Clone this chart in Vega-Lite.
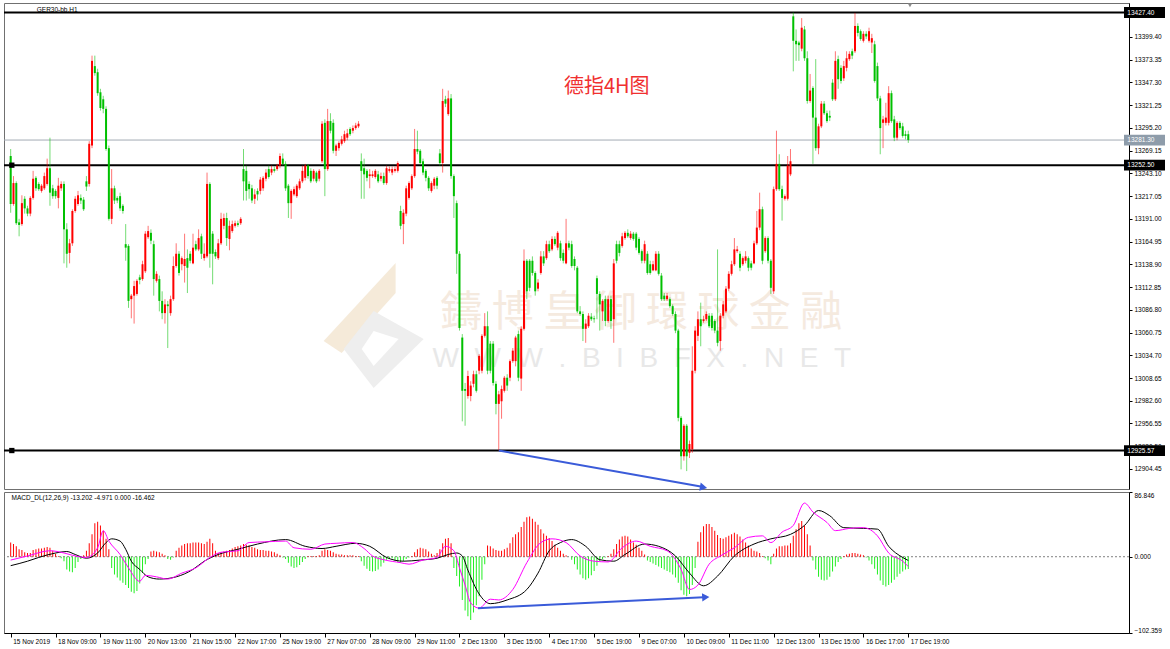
{
"$schema":"https://vega.github.io/schema/vega-lite/v6.json",
"background":"white",
"padding":{"left":2,"top":2,"right":0,"bottom":0},
"autosize":{"type":"pad"},
"bounds":"flush",
"spacing":3,
"config":{"view":{"stroke":"#707070","strokeWidth":1},"axis":{"labelFont":"Liberation Sans","labelFontSize":6.5,"labelColor":"#000","tickColor":"#000","domainColor":"#000","grid":false}},
"resolve":{"scale":{"x":"independent","y":"independent"}},
"datasets":{
"bars":[
{"i":0,"o":13263,"h":13271,"l":13198,"c":13208,"m":19},{"i":1,"o":13208,"h":13240,"l":13206,"c":13232,"m":17},{"i":2,"o":13232,"h":13234,"l":13184,"c":13186,"m":14},{"i":3,"o":13187,"h":13191,"l":13171,"c":13184,"m":10},{"i":4,"o":13185,"h":13218,"l":13183,"c":13209,"m":9},{"i":5,"o":13214,"h":13217,"l":13197,"c":13203,"m":6},{"i":6,"o":13203,"h":13206,"l":13194,"c":13197,"m":5},{"i":7,"o":13197,"h":13217,"l":13194,"c":13215,"m":5},{"i":8,"o":13215,"h":13246,"l":13213,"c":13237,"m":9},{"i":9,"o":13238,"h":13240,"l":13223,"c":13226,"m":10},
{"i":10,"o":13231,"h":13233,"l":13223,"c":13225,"m":11},{"i":11,"o":13223,"h":13231,"l":13221,"c":13229,"m":11},{"i":12,"o":13226,"h":13244,"l":13224,"c":13240,"m":12},{"i":13,"o":13231,"h":13260,"l":13229,"c":13249,"m":13},{"i":14,"o":13249,"h":13284,"l":13206,"c":13221,"m":12},{"i":15,"o":13226,"h":13230,"l":13214,"c":13217,"m":8},{"i":16,"o":13223,"h":13225,"l":13214,"c":13217,"m":4},{"i":17,"o":13215,"h":13238,"l":13203,"c":13229,"m":1},{"i":18,"o":13226,"h":13234,"l":13223,"c":13231,"m":-2},{"i":19,"o":13231,"h":13234,"l":13140,"c":13179,"m":-6},
{"i":20,"o":13179,"h":13186,"l":13135,"c":13151,"m":-17},{"i":21,"o":13152,"h":13168,"l":13140,"c":13163,"m":-20},{"i":22,"o":13163,"h":13202,"l":13160,"c":13200,"m":-21},{"i":23,"o":13200,"h":13217,"l":13198,"c":13214,"m":-15},{"i":24,"o":13208,"h":13223,"l":13206,"c":13218,"m":-7},{"i":25,"o":13215,"h":13219,"l":13208,"c":13212,"m":-3},{"i":26,"o":13213,"h":13216,"l":13200,"c":13202,"m":2},{"i":27,"o":13234,"h":13240,"l":13223,"c":13228,"m":8},{"i":28,"o":13231,"h":13280,"l":13228,"c":13277,"m":18},{"i":29,"o":13275,"h":13378,"l":13272,"c":13372,"m":30},
{"i":30,"o":13366,"h":13378,"l":13355,"c":13358,"m":45},{"i":31,"o":13359,"h":13363,"l":13332,"c":13335,"m":47},{"i":32,"o":13336,"h":13340,"l":13315,"c":13318,"m":42},{"i":33,"o":13328,"h":13332,"l":13312,"c":13317,"m":35},{"i":34,"o":13317,"h":13320,"l":13269,"c":13271,"m":24},{"i":35,"o":13272,"h":13275,"l":13189,"c":13191,"m":10},{"i":36,"o":13191,"h":13248,"l":13185,"c":13226,"m":-15},{"i":37,"o":13226,"h":13229,"l":13208,"c":13212,"m":-24},{"i":38,"o":13215,"h":13217,"l":13209,"c":13212,"m":-28},{"i":39,"o":13217,"h":13221,"l":13200,"c":13203,"m":-32},
{"i":40,"o":13206,"h":13208,"l":13197,"c":13200,"m":-35},{"i":41,"o":13162,"h":13185,"l":13143,"c":13158,"m":-38},{"i":42,"o":13160,"h":13162,"l":13089,"c":13097,"m":-42},{"i":43,"o":13099,"h":13105,"l":13077,"c":13103,"m":-47},{"i":44,"o":13103,"h":13120,"l":13071,"c":13114,"m":-49},{"i":45,"o":13105,"h":13122,"l":13103,"c":13120,"m":-46},{"i":46,"o":13124,"h":13127,"l":13116,"c":13121,"m":-36},{"i":47,"o":13122,"h":13143,"l":13120,"c":13139,"m":-22},{"i":48,"o":13131,"h":13177,"l":13129,"c":13174,"m":-10},{"i":49,"o":13170,"h":13183,"l":13168,"c":13177,"m":-3},
{"i":50,"o":13175,"h":13179,"l":13162,"c":13166,"m":7},{"i":51,"o":13162,"h":13166,"l":13103,"c":13122,"m":8},{"i":52,"o":13120,"h":13131,"l":13118,"c":13128,"m":7},{"i":53,"o":13122,"h":13126,"l":13085,"c":13097,"m":6},{"i":54,"o":13097,"h":13108,"l":13076,"c":13083,"m":4},{"i":55,"o":13083,"h":13099,"l":13071,"c":13093,"m":2},{"i":56,"o":13093,"h":13097,"l":13043,"c":13091,"m":-3},{"i":57,"o":13083,"h":13103,"l":13080,"c":13099,"m":-4},{"i":58,"o":13099,"h":13148,"l":13097,"c":13137,"m":-1},{"i":59,"o":13137,"h":13163,"l":13135,"c":13151,"m":8},
{"i":60,"o":13151,"h":13154,"l":13126,"c":13129,"m":12},{"i":61,"o":13139,"h":13148,"l":13132,"c":13146,"m":15},{"i":62,"o":13137,"h":13174,"l":13118,"c":13145,"m":17},{"i":63,"o":13146,"h":13156,"l":13106,"c":13135,"m":18},{"i":64,"o":13151,"h":13154,"l":13140,"c":13143,"m":18},{"i":65,"o":13140,"h":13174,"l":13139,"c":13158,"m":19},{"i":66,"o":13162,"h":13166,"l":13154,"c":13156,"m":19},{"i":67,"o":13156,"h":13179,"l":13154,"c":13169,"m":19},{"i":68,"o":13171,"h":13174,"l":13145,"c":13151,"m":18},{"i":69,"o":13146,"h":13163,"l":13143,"c":13151,"m":17},
{"i":70,"o":13148,"h":13244,"l":13146,"c":13231,"m":20},{"i":71,"o":13231,"h":13233,"l":13135,"c":13151,"m":24},{"i":72,"o":13174,"h":13177,"l":13116,"c":13151,"m":18},{"i":73,"o":13153,"h":13156,"l":13145,"c":13148,"m":8},{"i":74,"o":13146,"h":13168,"l":13144,"c":13163,"m":5},{"i":75,"o":13163,"h":13198,"l":13161,"c":13191,"m":6},{"i":76,"o":13183,"h":13197,"l":13179,"c":13192,"m":7},{"i":77,"o":13192,"h":13198,"l":13160,"c":13169,"m":8},{"i":78,"o":13168,"h":13189,"l":13155,"c":13183,"m":9},{"i":79,"o":13177,"h":13189,"l":13175,"c":13185,"m":11},
{"i":80,"o":13183,"h":13189,"l":13181,"c":13186,"m":13},{"i":81,"o":13186,"h":13189,"l":13182,"c":13184,"m":14},{"i":82,"o":13186,"h":13193,"l":13184,"c":13191,"m":15},{"i":83,"o":13248,"h":13271,"l":13212,"c":13234,"m":17},{"i":84,"o":13246,"h":13252,"l":13212,"c":13223,"m":16},{"i":85,"o":13231,"h":13234,"l":13214,"c":13225,"m":15},{"i":86,"o":13226,"h":13230,"l":13209,"c":13212,"m":13},{"i":87,"o":13214,"h":13225,"l":13208,"c":13219,"m":12},{"i":88,"o":13223,"h":13226,"l":13212,"c":13219,"m":10},{"i":89,"o":13223,"h":13239,"l":13219,"c":13236,"m":9},
{"i":90,"o":13226,"h":13240,"l":13223,"c":13238,"m":9},{"i":91,"o":13237,"h":13248,"l":13234,"c":13244,"m":8},{"i":92,"o":13248,"h":13252,"l":13237,"c":13239,"m":8},{"i":93,"o":13244,"h":13252,"l":13241,"c":13248,"m":7},{"i":94,"o":13248,"h":13251,"l":13244,"c":13246,"m":6},{"i":95,"o":13248,"h":13254,"l":13246,"c":13252,"m":4},{"i":96,"o":13252,"h":13266,"l":13249,"c":13263,"m":2},{"i":97,"o":13260,"h":13266,"l":13252,"c":13254,"m":-1},{"i":98,"o":13254,"h":13257,"l":13223,"c":13226,"m":-3},{"i":99,"o":13229,"h":13231,"l":13192,"c":13209,"m":-8},
{"i":100,"o":13209,"h":13225,"l":13191,"c":13223,"m":-13},{"i":101,"o":13219,"h":13228,"l":13217,"c":13225,"m":-15},{"i":102,"o":13217,"h":13231,"l":13215,"c":13229,"m":-14},{"i":103,"o":13226,"h":13237,"l":13224,"c":13234,"m":-11},{"i":104,"o":13234,"h":13252,"l":13232,"c":13246,"m":-7},{"i":105,"o":13238,"h":13254,"l":13235,"c":13252,"m":-3},{"i":106,"o":13252,"h":13254,"l":13237,"c":13240,"m":1},{"i":107,"o":13246,"h":13249,"l":13232,"c":13234,"m":1},{"i":108,"o":13237,"h":13248,"l":13234,"c":13246,"m":1},{"i":109,"o":13244,"h":13246,"l":13232,"c":13234,"m":1},
{"i":110,"o":13237,"h":13248,"l":13234,"c":13246,"m":2},{"i":111,"o":13257,"h":13303,"l":13255,"c":13300,"m":8},{"i":112,"o":13301,"h":13305,"l":13217,"c":13248,"m":10},{"i":113,"o":13248,"h":13317,"l":13246,"c":13303,"m":9},{"i":114,"o":13303,"h":13312,"l":13289,"c":13292,"m":8},{"i":115,"o":13301,"h":13305,"l":13266,"c":13269,"m":6},{"i":116,"o":13269,"h":13277,"l":13263,"c":13275,"m":4},{"i":117,"o":13272,"h":13280,"l":13269,"c":13278,"m":3},{"i":118,"o":13277,"h":13286,"l":13275,"c":13282,"m":3},{"i":119,"o":13280,"h":13292,"l":13278,"c":13288,"m":2},
{"i":120,"o":13284,"h":13294,"l":13281,"c":13289,"m":2},{"i":121,"o":13294,"h":13296,"l":13286,"c":13288,"m":2},{"i":122,"o":13292,"h":13298,"l":13289,"c":13295,"m":2},{"i":123,"o":13295,"h":13301,"l":13293,"c":13298,"m":1},{"i":124,"o":13297,"h":13303,"l":13295,"c":13300,"m":1},{"i":125,"o":13257,"h":13266,"l":13214,"c":13246,"m":-6},{"i":126,"o":13249,"h":13260,"l":13214,"c":13242,"m":-12},{"i":127,"o":13246,"h":13248,"l":13234,"c":13238,"m":-16},{"i":128,"o":13240,"h":13248,"l":13226,"c":13242,"m":-19},{"i":129,"o":13240,"h":13246,"l":13238,"c":13242,"m":-20},
{"i":130,"o":13239,"h":13248,"l":13237,"c":13246,"m":-19},{"i":131,"o":13242,"h":13246,"l":13232,"c":13234,"m":-17},{"i":132,"o":13237,"h":13244,"l":13234,"c":13240,"m":-13},{"i":133,"o":13240,"h":13244,"l":13230,"c":13232,"m":-8},{"i":134,"o":13232,"h":13252,"l":13230,"c":13249,"m":-4},{"i":135,"o":13246,"h":13251,"l":13244,"c":13248,"m":-3},{"i":136,"o":13244,"h":13251,"l":13241,"c":13248,"m":-2},{"i":137,"o":13246,"h":13251,"l":13244,"c":13248,"m":-5},{"i":138,"o":13246,"h":13257,"l":13244,"c":13255,"m":-7},{"i":139,"o":13200,"h":13206,"l":13179,"c":13183,"m":-8},
{"i":140,"o":13185,"h":13202,"l":13162,"c":13198,"m":-6},{"i":141,"o":13197,"h":13229,"l":13194,"c":13226,"m":-3},{"i":142,"o":13215,"h":13234,"l":13213,"c":13232,"m":-1},{"i":143,"o":13226,"h":13242,"l":13224,"c":13240,"m":1},{"i":144,"o":13240,"h":13294,"l":13238,"c":13271,"m":6},{"i":145,"o":13271,"h":13292,"l":13265,"c":13268,"m":10},{"i":146,"o":13269,"h":13271,"l":13253,"c":13255,"m":12},{"i":147,"o":13257,"h":13260,"l":13241,"c":13244,"m":11},{"i":148,"o":13246,"h":13248,"l":13234,"c":13238,"m":10},{"i":149,"o":13238,"h":13240,"l":13223,"c":13226,"m":7},
{"i":150,"o":13223,"h":13234,"l":13221,"c":13232,"m":4},{"i":151,"o":13229,"h":13239,"l":13225,"c":13237,"m":2},{"i":152,"o":13238,"h":13240,"l":13225,"c":13229,"m":5},{"i":153,"o":13266,"h":13271,"l":13252,"c":13255,"m":10},{"i":154,"o":13255,"h":13340,"l":13244,"c":13326,"m":18},{"i":155,"o":13328,"h":13332,"l":13319,"c":13323,"m":24},{"i":156,"o":13311,"h":13338,"l":13309,"c":13329,"m":25},{"i":157,"o":13329,"h":13334,"l":13237,"c":13240,"m":18},{"i":158,"o":13240,"h":13242,"l":13192,"c":13217,"m":-15},{"i":159,"o":13209,"h":13212,"l":13128,"c":13151,"m":-26},
{"i":160,"o":13151,"h":13154,"l":13063,"c":13066,"m":-40},{"i":161,"o":13055,"h":13059,"l":12959,"c":12994,"m":-58},{"i":162,"o":12996,"h":13003,"l":12954,"c":12994,"m":-72},{"i":163,"o":12988,"h":13017,"l":12985,"c":13011,"m":-80},{"i":164,"o":12988,"h":13005,"l":12982,"c":13000,"m":-85},{"i":165,"o":13002,"h":13017,"l":12998,"c":13013,"m":-75},{"i":166,"o":13013,"h":13017,"l":12992,"c":12994,"m":-65},{"i":167,"o":13017,"h":13036,"l":13013,"c":13034,"m":-53},{"i":168,"o":13017,"h":13059,"l":13014,"c":13057,"m":-31},{"i":169,"o":13057,"h":13083,"l":13055,"c":13068,"m":-10},
{"i":170,"o":13068,"h":13085,"l":13013,"c":13017,"m":15},{"i":171,"o":13048,"h":13051,"l":13014,"c":13017,"m":14},{"i":172,"o":13048,"h":13051,"l":13000,"c":13003,"m":11},{"i":173,"o":13002,"h":13005,"l":12967,"c":12979,"m":9},{"i":174,"o":12979,"h":12994,"l":12925.6,"c":12990,"m":8},{"i":175,"o":12982,"h":13000,"l":12962,"c":12996,"m":8},{"i":176,"o":12994,"h":13011,"l":12992,"c":13009,"m":10},{"i":177,"o":13009,"h":13013,"l":12994,"c":13000,"m":12},{"i":178,"o":13009,"h":13030,"l":13005,"c":13028,"m":18},{"i":179,"o":13028,"h":13043,"l":13026,"c":13040,"m":26},
{"i":180,"o":13028,"h":13057,"l":13022,"c":13055,"m":30},{"i":181,"o":13059,"h":13063,"l":13005,"c":13009,"m":33},{"i":182,"o":13008,"h":13068,"l":12994,"c":13065,"m":40},{"i":183,"o":13065,"h":13156,"l":13063,"c":13143,"m":47},{"i":184,"o":13143,"h":13145,"l":13099,"c":13108,"m":53},{"i":185,"o":13143,"h":13145,"l":13108,"c":13112,"m":54},{"i":186,"o":13143,"h":13148,"l":13126,"c":13129,"m":51},{"i":187,"o":13129,"h":13131,"l":13103,"c":13108,"m":47},{"i":188,"o":13111,"h":13122,"l":13108,"c":13118,"m":43},{"i":189,"o":13129,"h":13154,"l":13127,"c":13148,"m":37},
{"i":190,"o":13148,"h":13154,"l":13137,"c":13140,"m":31},{"i":191,"o":13146,"h":13166,"l":13144,"c":13162,"m":28},{"i":192,"o":13162,"h":13166,"l":13152,"c":13154,"m":25},{"i":193,"o":13156,"h":13171,"l":13154,"c":13168,"m":21},{"i":194,"o":13168,"h":13171,"l":13160,"c":13162,"m":16},{"i":195,"o":13158,"h":13177,"l":13155,"c":13175,"m":12},{"i":196,"o":13163,"h":13166,"l":13143,"c":13146,"m":8},{"i":197,"o":13152,"h":13156,"l":13140,"c":13143,"m":4},{"i":198,"o":13140,"h":13191,"l":13139,"c":13163,"m":2},{"i":199,"o":13163,"h":13166,"l":13155,"c":13158,"m":0},
{"i":200,"o":13162,"h":13166,"l":13135,"c":13137,"m":-4},{"i":201,"o":13145,"h":13148,"l":13132,"c":13137,"m":-10},{"i":202,"o":13135,"h":13137,"l":13083,"c":13085,"m":-17},{"i":203,"o":13085,"h":13091,"l":13080,"c":13082,"m":-24},{"i":204,"o":13082,"h":13085,"l":13051,"c":13065,"m":-29},{"i":205,"o":13065,"h":13076,"l":13049,"c":13071,"m":-31},{"i":206,"o":13068,"h":13083,"l":13066,"c":13080,"m":-29},{"i":207,"o":13079,"h":13083,"l":13074,"c":13076,"m":-25},{"i":208,"o":13077,"h":13080,"l":13072,"c":13076,"m":-19},{"i":209,"o":13123,"h":13126,"l":13076,"c":13105,"m":-12},
{"i":210,"o":13105,"h":13108,"l":13063,"c":13093,"m":-6},{"i":211,"o":13085,"h":13099,"l":13074,"c":13097,"m":-3},{"i":212,"o":13099,"h":13103,"l":13068,"c":13074,"m":-1},{"i":213,"o":13074,"h":13103,"l":13072,"c":13099,"m":1},{"i":214,"o":13099,"h":13103,"l":13065,"c":13074,"m":4},{"i":215,"o":13076,"h":13145,"l":13049,"c":13140,"m":10},{"i":216,"o":13162,"h":13166,"l":13140,"c":13143,"m":17},{"i":217,"o":13162,"h":13166,"l":13148,"c":13152,"m":23},{"i":218,"o":13160,"h":13175,"l":13158,"c":13171,"m":27},{"i":219,"o":13169,"h":13177,"l":13167,"c":13175,"m":28},
{"i":220,"o":13175,"h":13179,"l":13169,"c":13171,"m":27},{"i":221,"o":13169,"h":13177,"l":13167,"c":13174,"m":23},{"i":222,"o":13174,"h":13176,"l":13166,"c":13168,"m":19},{"i":223,"o":13174,"h":13176,"l":13155,"c":13158,"m":16},{"i":224,"o":13168,"h":13170,"l":13150,"c":13152,"m":12},{"i":225,"o":13154,"h":13156,"l":13140,"c":13143,"m":8},{"i":226,"o":13143,"h":13166,"l":13140,"c":13162,"m":3},{"i":227,"o":13151,"h":13154,"l":13127,"c":13129,"m":-5},{"i":228,"o":13139,"h":13143,"l":13127,"c":13129,"m":-7},{"i":229,"o":13132,"h":13143,"l":13131,"c":13139,"m":-9},
{"i":230,"o":13132,"h":13154,"l":13131,"c":13151,"m":-11},{"i":231,"o":13151,"h":13154,"l":13126,"c":13128,"m":-13},{"i":232,"o":13126,"h":13129,"l":13097,"c":13099,"m":-15},{"i":233,"o":13103,"h":13106,"l":13097,"c":13099,"m":-17},{"i":234,"o":13099,"h":13106,"l":13097,"c":13103,"m":-19},{"i":235,"o":13099,"h":13101,"l":13089,"c":13091,"m":-21},{"i":236,"o":13091,"h":13093,"l":13080,"c":13082,"m":-24},{"i":237,"o":13082,"h":13085,"l":13060,"c":13063,"m":-28},{"i":238,"o":13063,"h":13065,"l":12959,"c":12963,"m":-35},{"i":239,"o":12963,"h":12965,"l":12904,"c":12919,"m":-45},
{"i":240,"o":12919,"h":12956,"l":12914,"c":12954,"m":-51},{"i":241,"o":12954,"h":12956,"l":12902,"c":12919,"m":-53},{"i":242,"o":12923,"h":12937,"l":12917,"c":12933,"m":-50},{"i":243,"o":12927,"h":13045,"l":12923,"c":13017,"m":-38},{"i":244,"o":13017,"h":13068,"l":13014,"c":13063,"m":-15},{"i":245,"o":13057,"h":13085,"l":13051,"c":13076,"m":20},{"i":246,"o":13076,"h":13095,"l":13045,"c":13068,"m":33},{"i":247,"o":13074,"h":13080,"l":13072,"c":13076,"m":41},{"i":248,"o":13076,"h":13085,"l":13074,"c":13082,"m":44},{"i":249,"o":13080,"h":13083,"l":13066,"c":13068,"m":44},
{"i":250,"o":13080,"h":13083,"l":13063,"c":13066,"m":40},{"i":251,"o":13074,"h":13076,"l":13060,"c":13063,"m":35},{"i":252,"o":13063,"h":13156,"l":13045,"c":13049,"m":29},{"i":253,"o":13051,"h":13083,"l":13040,"c":13080,"m":25},{"i":254,"o":13080,"h":13097,"l":13077,"c":13093,"m":24},{"i":255,"o":13085,"h":13114,"l":13083,"c":13111,"m":26},{"i":256,"o":13111,"h":13131,"l":13108,"c":13128,"m":28},{"i":257,"o":13128,"h":13143,"l":13126,"c":13139,"m":30},{"i":258,"o":13139,"h":13169,"l":13137,"c":13156,"m":32},{"i":259,"o":13154,"h":13160,"l":13152,"c":13156,"m":30},
{"i":260,"o":13151,"h":13154,"l":13131,"c":13135,"m":27},{"i":261,"o":13139,"h":13148,"l":13137,"c":13146,"m":23},{"i":262,"o":13143,"h":13154,"l":13140,"c":13148,"m":19},{"i":263,"o":13146,"h":13148,"l":13131,"c":13135,"m":15},{"i":264,"o":13140,"h":13143,"l":13132,"c":13135,"m":11},{"i":265,"o":13140,"h":13166,"l":13139,"c":13163,"m":8},{"i":266,"o":13163,"h":13200,"l":13161,"c":13181,"m":7},{"i":267,"o":13181,"h":13221,"l":13178,"c":13202,"m":5},{"i":268,"o":13202,"h":13205,"l":13139,"c":13143,"m":1},{"i":269,"o":13154,"h":13171,"l":13152,"c":13169,"m":-2},
{"i":270,"o":13169,"h":13171,"l":13140,"c":13143,"m":-5},{"i":271,"o":13143,"h":13145,"l":13105,"c":13112,"m":-10},{"i":272,"o":13108,"h":13228,"l":13105,"c":13225,"m":4},{"i":273,"o":13225,"h":13292,"l":13223,"c":13254,"m":11},{"i":274,"o":13254,"h":13265,"l":13223,"c":13225,"m":14},{"i":275,"o":13225,"h":13229,"l":13189,"c":13215,"m":14},{"i":276,"o":13214,"h":13219,"l":13212,"c":13217,"m":15},{"i":277,"o":13214,"h":13263,"l":13212,"c":13252,"m":15},{"i":278,"o":13242,"h":13271,"l":13240,"c":13257,"m":18},{"i":279,"o":13423,"h":13427.4,"l":13360,"c":13395,"m":28},
{"i":280,"o":13395,"h":13408,"l":13372,"c":13391,"m":37},{"i":281,"o":13393,"h":13395,"l":13372,"c":13390,"m":45},{"i":282,"o":13386,"h":13421,"l":13383,"c":13410,"m":48},{"i":283,"o":13408,"h":13412,"l":13372,"c":13375,"m":42},{"i":284,"o":13375,"h":13383,"l":13323,"c":13326,"m":30},{"i":285,"o":13326,"h":13357,"l":13324,"c":13338,"m":15},{"i":286,"o":13341,"h":13343,"l":13254,"c":13307,"m":-5},{"i":287,"o":13307,"h":13374,"l":13269,"c":13272,"m":-17},{"i":288,"o":13272,"h":13300,"l":13265,"c":13297,"m":-27},{"i":289,"o":13297,"h":13326,"l":13295,"c":13323,"m":-31},
{"i":290,"o":13323,"h":13326,"l":13310,"c":13312,"m":-32},{"i":291,"o":13312,"h":13315,"l":13301,"c":13303,"m":-31},{"i":292,"o":13309,"h":13315,"l":13303,"c":13307,"m":-27},{"i":293,"o":13347,"h":13351,"l":13326,"c":13328,"m":-20},{"i":294,"o":13328,"h":13383,"l":13326,"c":13372,"m":-13},{"i":295,"o":13374,"h":13378,"l":13340,"c":13351,"m":-7},{"i":296,"o":13364,"h":13367,"l":13346,"c":13349,"m":-3},{"i":297,"o":13352,"h":13372,"l":13349,"c":13366,"m":1},{"i":298,"o":13364,"h":13383,"l":13360,"c":13375,"m":3},{"i":299,"o":13374,"h":13383,"l":13372,"c":13380,"m":4},
{"i":300,"o":13383,"h":13386,"l":13374,"c":13378,"m":5},{"i":301,"o":13383,"h":13427,"l":13381,"c":13412,"m":5},{"i":302,"o":13412,"h":13415,"l":13400,"c":13404,"m":4},{"i":303,"o":13406,"h":13408,"l":13395,"c":13397,"m":3},{"i":304,"o":13395,"h":13406,"l":13393,"c":13403,"m":2},{"i":305,"o":13403,"h":13406,"l":13397,"c":13400,"m":-1},{"i":306,"o":13395,"h":13410,"l":13393,"c":13406,"m":-5},{"i":307,"o":13393,"h":13403,"l":13381,"c":13398,"m":-10},{"i":308,"o":13391,"h":13395,"l":13347,"c":13349,"m":-16},{"i":309,"o":13366,"h":13370,"l":13326,"c":13329,"m":-24},
{"i":310,"o":13329,"h":13332,"l":13265,"c":13295,"m":-32},{"i":311,"o":13301,"h":13309,"l":13272,"c":13305,"m":-38},{"i":312,"o":13301,"h":13324,"l":13298,"c":13307,"m":-40},{"i":313,"o":13301,"h":13343,"l":13298,"c":13335,"m":-38},{"i":314,"o":13335,"h":13338,"l":13301,"c":13303,"m":-35},{"i":315,"o":13305,"h":13309,"l":13280,"c":13284,"m":-31},{"i":316,"o":13284,"h":13303,"l":13281,"c":13301,"m":-27},{"i":317,"o":13301,"h":13303,"l":13293,"c":13295,"m":-23},{"i":318,"o":13297,"h":13301,"l":13284,"c":13286,"m":-20},{"i":319,"o":13288,"h":13292,"l":13282,"c":13286,"m":-17},
{"i":320,"o":13288,"h":13292,"l":13278,"c":13281.3,"m":-16.5}
],
"sig":[{"i":0,"v":-12},{"i":6,"v":-6},{"i":10,"v":-1},{"i":16,"v":5},{"i":20,"v":7},{"i":23,"v":3},{"i":27,"v":-2},{"i":31,"v":5},{"i":34,"v":19},{"i":36,"v":24},{"i":39,"v":21},{"i":41,"v":10},{"i":43,"v":-6},{"i":46,"v":-17},{"i":49,"v":-27},{"i":53,"v":-30},{"i":59,"v":-27},{"i":65,"v":-17},{"i":69,"v":-6},{"i":74,"v":3},{"i":81,"v":10},{"i":88,"v":17},{"i":98,"v":23},{"i":105,"v":14},{"i":111,"v":11},{"i":116,"v":14},{"i":123,"v":18},{"i":128,"v":14},{"i":134,"v":-1},{"i":140,"v":-6},{"i":146,"v":-4.5},{"i":152,"v":-2},{"i":156,"v":3},{"i":159,"v":5},{"i":161,"v":1},{"i":163,"v":-18},{"i":167,"v":-50},{"i":171,"v":-63},{"i":177,"v":-58},{"i":184,"v":-44},{"i":188,"v":-22},{"i":192,"v":8},{"i":196,"v":19},{"i":200,"v":23},{"i":205,"v":14},{"i":210,"v":-4},{"i":215,"v":-6},{"i":219,"v":3},{"i":226,"v":17},{"i":231,"v":14},{"i":237,"v":1},{"i":242,"v":-22},{"i":247,"v":-39},{"i":252,"v":-26},{"i":258,"v":1},{"i":265,"v":17},{"i":271,"v":24},{"i":278,"v":30},{"i":283,"v":42},{"i":288,"v":62},{"i":292,"v":55},{"i":297,"v":39},{"i":304,"v":38},{"i":309,"v":37},{"i":313,"v":14},{"i":318,"v":-1},{"i":320,"v":-5}],
"mac":[{"i":0,"v":-4.5},{"i":6,"v":1},{"i":14,"v":8},{"i":19,"v":5},{"i":22,"v":2},{"i":27,"v":-1},{"i":31,"v":12},{"i":33,"v":35},{"i":35,"v":21},{"i":39,"v":3},{"i":42,"v":-15},{"i":46,"v":-33},{"i":48,"v":-25},{"i":52,"v":-27},{"i":56,"v":-30},{"i":61,"v":-22},{"i":66,"v":-15},{"i":71,"v":-1},{"i":75,"v":6},{"i":81,"v":8},{"i":85,"v":19},{"i":91,"v":20},{"i":98,"v":21},{"i":101,"v":12},{"i":107,"v":10},{"i":112,"v":17},{"i":116,"v":18},{"i":122,"v":19},{"i":126,"v":11},{"i":129,"v":1},{"i":133,"v":-4},{"i":139,"v":-8},{"i":142,"v":-10},{"i":147,"v":-4.5},{"i":152,"v":-1},{"i":155,"v":14},{"i":158,"v":8},{"i":160,"v":-15},{"i":162,"v":-38},{"i":164,"v":-62},{"i":167,"v":-69},{"i":171,"v":-57},{"i":174,"v":-58},{"i":179,"v":-44},{"i":184,"v":-8},{"i":189,"v":19},{"i":193,"v":24},{"i":198,"v":19},{"i":203,"v":1},{"i":208,"v":-6},{"i":213,"v":-7},{"i":218,"v":12},{"i":223,"v":21},{"i":228,"v":14},{"i":234,"v":8},{"i":239,"v":-17},{"i":242,"v":-44},{"i":245,"v":-38},{"i":249,"v":-10},{"i":253,"v":1},{"i":258,"v":12},{"i":263,"v":26},{"i":268,"v":28},{"i":271,"v":19},{"i":275,"v":33},{"i":279,"v":42},{"i":283,"v":72},{"i":286,"v":60},{"i":291,"v":46},{"i":294,"v":35},{"i":299,"v":38},{"i":304,"v":39},{"i":309,"v":28},{"i":313,"v":5},{"i":318,"v":-6},{"i":320,"v":-13.2}]
},
"vconcat":[
{
"width":1125,"height":486,
"resolve":{"axis":{"x":"independent","y":"independent"}},
"layer":[
{"data":{"values":[{}]},"mark":{"type":"point","shape":"M-1,0L0.44,-1.56L0.44,-0.96L-0.64,0.24Z","filled":true,"color":"#f5ead9","size":10000,"opacity":1},
 "encoding":{"x":{"datum":129.4,"type":"quantitative","scale":{"domain":[-0.6,396.9],"nice":false,"zero":false},"axis":null},"y":{"datum":13051,"type":"quantitative","scale":{"domain":[12881.5,13438.3],"nice":false,"zero":false},"axis":null}}},
{"data":{"values":[{}]},"mark":{"type":"point","shape":"M0,-0.6L1,-0.04L0,0.94L-0.6,0.16ZM0,-0.2L-0.24,0.16L0,0.5L0.5,-0.04Z","filled":true,"color":"#eeeeee","size":10000,"opacity":1},
 "encoding":{"x":{"datum":129.4,"type":"quantitative","scale":{"domain":[-0.6,396.9],"nice":false,"zero":false},"axis":null},"y":{"datum":13051,"type":"quantitative","scale":{"domain":[12881.5,13438.3],"nice":false,"zero":false},"axis":null}}},
{"data":{"values":[{}]},"mark":{"type":"text","text":"鑄 博 皇 御 環 球 金 融","font":"Noto Sans CJK TC","fontSize":42,"color":"#f5eadf","align":"center","baseline":"middle"},
 "encoding":{"x":{"datum":224.8,"type":"quantitative","scale":{"domain":[-0.6,396.9],"nice":false,"zero":false},"axis":null},"y":{"datum":13083,"type":"quantitative","scale":{"domain":[12881.5,13438.3],"nice":false,"zero":false},"axis":null}}},
{"data":{"values":[{}]},"mark":{"type":"text","text":"W\u00a0\u00a0W\u00a0\u00a0W\u00a0\u00a0.\u00a0\u00a0B\u00a0\u00a0I\u00a0\u00a0B\u00a0\u00a0F\u00a0\u00a0X\u00a0\u00a0.\u00a0\u00a0N\u00a0\u00a0E\u00a0\u00a0T","font":"Liberation Sans","fontSize":28,"color":"#e8e8e8","align":"center","baseline":"middle"},
 "encoding":{"x":{"datum":225,"type":"quantitative","scale":{"domain":[-0.6,396.9],"nice":false,"zero":false},"axis":null},"y":{"datum":13031,"type":"quantitative","scale":{"domain":[12881.5,13438.3],"nice":false,"zero":false},"axis":null}}},
{"data":{"values":[{"p":13427.4},{"p":13252.5},{"p":12925.57}]},"mark":{"type":"rule","color":"#000000","strokeWidth":2},
 "encoding":{"y":{"field":"p","type":"quantitative","scale":{"domain":[12881.5,13438.3],"nice":false,"zero":false},
  "axis":{"orient":"right","title":null,"values":[12904.45,12930.5,12956.55,12982.6,13008.65,13034.7,13060.75,13086.8,13112.85,13138.9,13164.95,13191,13217.05,13243.1,13269.15,13295.2,13321.25,13347.3,13373.35,13399.4],"format":".2f","tickSize":3,"labelPadding":2,"labelOverlap":false}}}},
{"data":{"values":[{"p":13281.3}]},"mark":{"type":"rule","color":"#a3abb4","strokeWidth":1},
 "encoding":{"y":{"field":"p","type":"quantitative","scale":{"domain":[12881.5,13438.3],"nice":false,"zero":false},"axis":null}}},
{"data":{"name":"bars"},"mark":{"type":"rule","strokeWidth":1,"opacity":0.55},
 "encoding":{"x":{"field":"i","type":"quantitative","scale":{"domain":[-0.6,396.9],"nice":false,"zero":false},"axis":null},
  "y":{"field":"l","type":"quantitative","scale":{"domain":[12881.5,13438.3],"nice":false,"zero":false},"axis":null},"y2":{"field":"h"},
  "color":{"condition":{"test":"datum.c >= datum.o","value":"#ff0000"},"value":"#00c000"}}},
{"data":{"name":"bars"},"mark":{"type":"bar","size":2},
 "encoding":{"x":{"field":"i","type":"quantitative","scale":{"domain":[-0.6,396.9],"nice":false,"zero":false},"axis":null},
  "y":{"field":"o","type":"quantitative","scale":{"domain":[12881.5,13438.3],"nice":false,"zero":false},"axis":null},"y2":{"field":"c"},
  "color":{"condition":{"test":"datum.c >= datum.o","value":"#ff0000"},"value":"#00c000"}}},
{"data":{"values":[{"p":13252.5},{"p":12925.57}]},"mark":{"type":"point","shape":"square","filled":true,"color":"#000000","size":28,"opacity":1},
 "encoding":{"x":{"datum":0.4,"type":"quantitative","scale":{"domain":[-0.6,396.9],"nice":false,"zero":false},"axis":null},"y":{"field":"p","type":"quantitative","scale":{"domain":[12881.5,13438.3],"nice":false,"zero":false},"axis":null}}},
{"data":{"values":[{"i":174,"p":12925.6},{"i":246.5,"p":12884}]},"mark":{"type":"line","color":"#3a5bd9","strokeWidth":2},
 "encoding":{"x":{"field":"i","type":"quantitative","scale":{"domain":[-0.6,396.9],"nice":false,"zero":false},"axis":null},"y":{"field":"p","type":"quantitative","scale":{"domain":[12881.5,13438.3],"nice":false,"zero":false},"axis":null}}},
{"data":{"values":[{}]},"mark":{"type":"point","shape":"triangle-right","filled":true,"color":"#3a5bd9","size":70,"angle":10,"opacity":1},
 "encoding":{"x":{"datum":247,"type":"quantitative","scale":{"domain":[-0.6,396.9],"nice":false,"zero":false},"axis":null},"y":{"datum":12883.5,"type":"quantitative","scale":{"domain":[12881.5,13438.3],"nice":false,"zero":false},"axis":null}}},
{"data":{"values":[{}]},"mark":{"type":"text","text":"德指4H图","font":"Noto Sans CJK SC","fontSize":20,"color":"#f03030","align":"center","baseline":"middle"},
 "encoding":{"x":{"datum":212.5,"type":"quantitative","scale":{"domain":[-0.6,396.9],"nice":false,"zero":false},"axis":null},"y":{"datum":13342,"type":"quantitative","scale":{"domain":[12881.5,13438.3],"nice":false,"zero":false},"axis":null}}},
{"data":{"values":[{}]},"mark":{"type":"text","text":"GER30-bb,H1","font":"Liberation Sans","fontSize":6.5,"color":"#000000","align":"left","baseline":"middle"},
 "encoding":{"x":{"datum":9.3,"type":"quantitative","scale":{"domain":[-0.6,396.9],"nice":false,"zero":false},"axis":null},"y":{"datum":13430,"type":"quantitative","scale":{"domain":[12881.5,13438.3],"nice":false,"zero":false},"axis":null}}},
{"data":{"values":[{}]},"mark":{"type":"point","shape":"triangle-down","filled":true,"color":"#8a8a8a","size":18,"opacity":1},
 "encoding":{"x":{"datum":320.6,"type":"quantitative","scale":{"domain":[-0.6,396.9],"nice":false,"zero":false},"axis":null},"y":{"datum":13435.5,"type":"quantitative","scale":{"domain":[12881.5,13438.3],"nice":false,"zero":false},"axis":null}}},
{"data":{"values":[{"p":13427.4},{"p":13252.5},{"p":12925.57}]},"mark":{"type":"point","shape":"M0,-0.27L2.05,-0.27L2.05,0.27L0,0.27Z","filled":true,"color":"#000000","size":1600,"opacity":1},
 "encoding":{"x":{"datum":396.9,"type":"quantitative","scale":{"domain":[-0.6,396.9],"nice":false,"zero":false},"axis":null},"y":{"field":"p","type":"quantitative","scale":{"domain":[12881.5,13438.3],"nice":false,"zero":false},"axis":null}}},
{"data":{"values":[{"p":13281.3}]},"mark":{"type":"point","shape":"M0,-0.27L2.05,-0.27L2.05,0.27L0,0.27Z","filled":true,"color":"#8e9caa","size":1600,"opacity":1},
 "encoding":{"x":{"datum":396.9,"type":"quantitative","scale":{"domain":[-0.6,396.9],"nice":false,"zero":false},"axis":null},"y":{"field":"p","type":"quantitative","scale":{"domain":[12881.5,13438.3],"nice":false,"zero":false},"axis":null}}},
{"data":{"values":[{"p":13427.4},{"p":13281.3},{"p":13252.5},{"p":12925.57}]},"mark":{"type":"text","font":"Liberation Sans","fontSize":6.5,"color":"#ffffff","align":"left","baseline":"middle"},
 "encoding":{"x":{"datum":398.1,"type":"quantitative","scale":{"domain":[-0.6,396.9],"nice":false,"zero":false},"axis":null},"y":{"field":"p","type":"quantitative","scale":{"domain":[12881.5,13438.3],"nice":false,"zero":false},"axis":null},"text":{"field":"p","format":".2f"}}}
]
},
{
"width":1125,"height":141,
"resolve":{"axis":{"x":"independent","y":"independent"}},
"layer":[
{"data":{"values":[{}]},"mark":{"type":"rule","color":"#808080","strokeWidth":1,"strokeDash":[2,2]},
 "encoding":{"y":{"datum":0,"type":"quantitative","scale":{"domain":[-102.359,86.846],"nice":false,"zero":false},
  "axis":{"orient":"right","title":null,"values":[86.846,0,-102.359],"format":".3f","tickSize":3,"labelPadding":2,"labelFlush":true,"labelOverlap":false}}}},
{"data":{"name":"bars"},"mark":{"type":"bar","size":1},
 "encoding":{"x":{"field":"i","type":"quantitative","scale":{"domain":[-0.6,396.9],"nice":false,"zero":false},
  "axis":{"orient":"bottom","title":null,"values":[0,16,32,48,64,80,96,112,128,144,160,176,192,208,224,240,256,272,288,304,320],
   "labelExpr":"['15 Nov 2019','18 Nov 09:00','19 Nov 11:00','20 Nov 13:00','21 Nov 15:00','22 Nov 17:00','25 Nov 19:00','27 Nov 07:00','28 Nov 09:00','29 Nov 11:00','2 Dec 13:00','3 Dec 15:00','4 Dec 17:00','5 Dec 19:00','9 Dec 07:00','10 Dec 09:00','11 Dec 11:00','12 Dec 13:00','13 Dec 15:00','16 Dec 17:00','17 Dec 19:00'][round(datum.value/16)]",
   "labelAlign":"left","labelOffset":2,"tickSize":4,"labelPadding":1,"labelOverlap":false,"labelBound":false,"labelFlush":false}},
  "y":{"field":"m","type":"quantitative","scale":{"domain":[-102.359,86.846],"nice":false,"zero":false},"axis":null},"y2":{"datum":0},
  "color":{"condition":{"test":"datum.m >= 0","value":"#ff0000"},"value":"#22ee22"}}},
{"data":{"name":"sig"},"mark":{"type":"line","color":"#000000","strokeWidth":1,"interpolate":"monotone"},
 "encoding":{"x":{"field":"i","type":"quantitative","scale":{"domain":[-0.6,396.9],"nice":false,"zero":false},"axis":null},"y":{"field":"v","type":"quantitative","scale":{"domain":[-102.359,86.846],"nice":false,"zero":false},"axis":null}}},
{"data":{"name":"mac"},"mark":{"type":"line","color":"#ff00ff","strokeWidth":1,"interpolate":"monotone"},
 "encoding":{"x":{"field":"i","type":"quantitative","scale":{"domain":[-0.6,396.9],"nice":false,"zero":false},"axis":null},"y":{"field":"v","type":"quantitative","scale":{"domain":[-102.359,86.846],"nice":false,"zero":false},"axis":null}}},
{"data":{"values":[{"i":166.6,"v":-69},{"i":247,"v":-54.5}]},"mark":{"type":"line","color":"#3a5bd9","strokeWidth":2},
 "encoding":{"x":{"field":"i","type":"quantitative","scale":{"domain":[-0.6,396.9],"nice":false,"zero":false},"axis":null},"y":{"field":"v","type":"quantitative","scale":{"domain":[-102.359,86.846],"nice":false,"zero":false},"axis":null}}},
{"data":{"values":[{}]},"mark":{"type":"point","shape":"triangle-right","filled":true,"color":"#3a5bd9","size":70,"angle":-3,"opacity":1},
 "encoding":{"x":{"datum":247.8,"type":"quantitative","scale":{"domain":[-0.6,396.9],"nice":false,"zero":false},"axis":null},"y":{"datum":-54.3,"type":"quantitative","scale":{"domain":[-102.359,86.846],"nice":false,"zero":false},"axis":null}}},
{"data":{"values":[{}]},"mark":{"type":"text","text":"MACD_DL(12,26,9) -13.202 -4.971 0.000 -16.462","font":"Liberation Sans","fontSize":6.5,"color":"#000000","align":"left","baseline":"middle"},
 "encoding":{"x":{"datum":0.3,"type":"quantitative","scale":{"domain":[-0.6,396.9],"nice":false,"zero":false},"axis":null},"y":{"datum":79,"type":"quantitative","scale":{"domain":[-102.359,86.846],"nice":false,"zero":false},"axis":null}}}
]
}
]
}
